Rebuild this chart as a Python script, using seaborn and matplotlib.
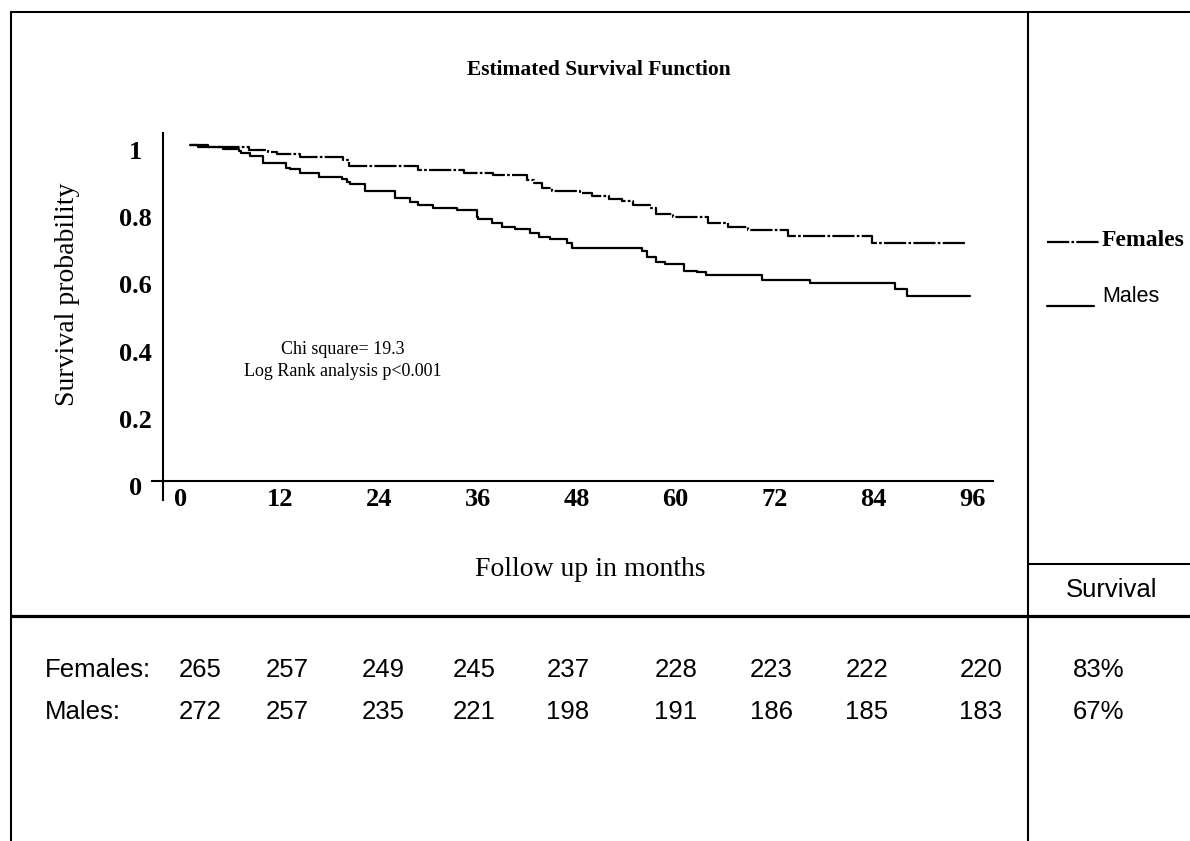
import numpy as np
import pandas as pd
import matplotlib
matplotlib.use("Agg")
import matplotlib.pyplot as plt
from matplotlib.lines import Line2D
from matplotlib.transforms import ScaledTranslation
import seaborn as sns

# ---------------- data ----------------
fem_months = [1.1, 3.3, 8.3, 10.5, 11.6, 14.4, 19.6, 20.4, 28.8, 34.3,
              37.9, 42.0, 42.8, 43.8, 45.0, 48.4, 49.9, 51.9, 53.5, 54.9,
              56.9, 57.7, 59.7, 64.0, 66.4, 68.8, 73.7, 83.8, 95.4]
fem_surv = [1.000, 0.993, 0.985, 0.980, 0.973, 0.965, 0.955, 0.938, 0.926, 0.918,
            0.910, 0.896, 0.887, 0.871, 0.863, 0.858, 0.848, 0.839, 0.832, 0.821,
            0.813, 0.795, 0.785, 0.767, 0.757, 0.746, 0.730, 0.709, 0.709]
male_months = [1.1, 2.1, 5.1, 7.0, 7.3, 8.4, 10.0, 12.8, 13.2, 14.4,
               16.7, 19.5, 20.1, 20.5, 22.3, 26.0, 27.8, 28.8, 30.6, 33.5,
               35.9, 36.1, 37.7, 38.9, 40.5, 42.4, 43.4, 44.8, 46.8, 47.4,
               55.9, 56.6, 57.7, 58.7, 61.0, 62.6, 63.7, 70.5, 76.3, 86.7,
               88.1, 95.7]
male_surv = [1.000, 0.993, 0.987, 0.982, 0.975, 0.967, 0.947, 0.932, 0.928, 0.918,
             0.906, 0.898, 0.891, 0.883, 0.863, 0.841, 0.831, 0.821, 0.813, 0.806,
             0.787, 0.781, 0.769, 0.757, 0.749, 0.737, 0.727, 0.719, 0.707, 0.693,
             0.685, 0.668, 0.653, 0.645, 0.626, 0.621, 0.614, 0.599, 0.588, 0.571,
             0.551, 0.551]
tick_months = [0, 12, 24, 36, 48, 60, 72, 84, 96]
y_ticks = [0, 0.2, 0.4, 0.6, 0.8, 1]
y_tick_labels = ["0", "0.2", "0.4", "0.6", "0.8", "1"]
groups = ["Females", "Males"]
fem_at_risk = [265, 257, 249, 245, 237, 228, 223, 222, 220]
male_at_risk = [272, 257, 235, 221, 198, 191, 186, 185, 183]
survival_pct = ["83%", "67%"]

title = "Estimated Survival Function"
x_label = "Follow up in months"
y_label = "Survival probability"
stats_lines = ["Chi square= 19.3", "Log Rank analysis p<0.001"]

# ---------------- style ----------------
sns.set_theme(style="white")
plt.rcParams["font.family"] = ["Liberation Serif", "DejaVu Serif"]
plt.rcParams["text.color"] = "black"
plt.rcParams["axes.labelcolor"] = "black"
plt.rcParams["xtick.color"] = "black"
plt.rcParams["ytick.color"] = "black"
SANS = ["Liberation Sans", "DejaVu Sans"]

W, H = 1190, 841
fig = plt.figure(figsize=(W / 100, H / 100), dpi=100)
fig.patch.set_facecolor("white")


def fx(px):
    return px / W


def fy(py):
    return 1 - py / H


ax = fig.add_axes([fx(152), fy(500), fx(993) - fx(152), fy(133) - fy(500)])
ax.set_facecolor("white")

df = pd.concat([
    pd.DataFrame({"month": fem_months, "surv": fem_surv, "group": groups[0]}),
    pd.DataFrame({"month": male_months, "surv": male_surv, "group": groups[1]}),
], ignore_index=True)

dash_f = (10, 1.0, 1.2, 1.0)
sns.lineplot(data=df, x="month", y="surv", hue="group", style="group",
             palette={groups[0]: "black", groups[1]: "black"},
             dashes={groups[0]: dash_f, groups[1]: ""},
             drawstyle="steps-post", estimator=None, legend=False,
             linewidth=1.6, ax=ax)

ax.set_xlim(-3.52, 98.54)
ax.set_ylim(-0.0565, 1.0357)
for s in ["top", "right"]:
    ax.spines[s].set_visible(False)
ax.spines["left"].set_position(("data", -2.18))
ax.spines["bottom"].set_position(("data", 0))
for s in ["left", "bottom"]:
    ax.spines[s].set_color("black")
    ax.spines[s].set_linewidth(1.5)

ax.set_xticks(tick_months)
ax.set_xticklabels([str(m) for m in tick_months], fontsize=19, fontweight="bold",
                   color="black")
ax.set_yticks(y_ticks)
ax.set_yticklabels(y_tick_labels, fontsize=19, fontweight="bold", ha="center",
                   color="black")
ax.tick_params(axis="both", length=0, colors="black")
ax.tick_params(axis="x", pad=5)
ax.tick_params(axis="y", pad=20)
ax.set_xlabel("")
ax.set_ylabel("")
ax.grid(False)
# y tick labels sit a few pixels below their grid values in the reference
shift = ScaledTranslation(0, -5 / 100, fig.dpi_scale_trans)
for lab in ax.get_yticklabels():
    lab.set_transform(lab.get_transform() + shift)

# texts around the plot
fig.text(fx(599), fy(70), title, ha="center", va="center", fontsize=15.5,
         fontweight="bold", color="black")
fig.text(fx(590), fy(570), x_label, ha="center", va="center", fontsize=20, color="black")
fig.text(fx(67), fy(294), y_label, ha="center", va="center", fontsize=20, rotation=90,
         color="black")
fig.text(fx(343), fy(349), stats_lines[0], ha="center", va="center", fontsize=13,
         color="black")
fig.text(fx(343), fy(372), stats_lines[1], ha="center", va="center", fontsize=13,
         color="black")


# frame lines
def hline(y, x0, x1, lw=1.5):
    fig.add_artist(Line2D([fx(x0), fx(x1)], [fy(y), fy(y)], transform=fig.transFigure,
                          color="black", linewidth=lw))


def vline(x, y0, y1, lw=1.5):
    fig.add_artist(Line2D([fx(x), fx(x)], [fy(y0), fy(y1)], transform=fig.transFigure,
                          color="black", linewidth=lw))


hline(12, 11, 1190)
vline(11, 12, 841)
vline(1028, 12, 841)
hline(616, 11, 1190, lw=2.3)
hline(564, 1028, 1190)

# legend
fig.add_artist(Line2D([fx(1047), fx(1099)], [fy(242), fy(242)], transform=fig.transFigure,
                      color="black", linewidth=1.6, linestyle=(0, dash_f)))
fig.text(fx(1102), fy(241), groups[0], ha="left", va="center", fontsize=17,
         fontweight="bold", color="black")
fig.add_artist(Line2D([fx(1047), fx(1094)], [fy(306), fy(306)], transform=fig.transFigure,
                      color="black", linewidth=1.6))
fig.text(fx(1102), fy(297), groups[1], ha="left", va="center", fontsize=15.5,
         family=SANS, color="black")

# at-risk table
col_x = [200, 287, 383, 474, 568, 676, 771, 867, 981]
row_y = [670, 712]
fig.text(fx(1112), fy(590), "Survival", ha="center", va="center", fontsize=18.5,
         family=SANS, color="black")
for label, counts, pct, y in zip(groups, [fem_at_risk, male_at_risk], survival_pct, row_y):
    fig.text(fx(45), fy(y), label + ":", ha="left", va="center", fontsize=18.5,
             family=SANS, color="black")
    for cx, n in zip(col_x, counts):
        fig.text(fx(cx), fy(y), str(n), ha="center", va="center", fontsize=18.5,
                 family=SANS, color="black")
    fig.text(fx(1099), fy(y), pct, ha="center", va="center", fontsize=18.5,
             family=SANS, color="black")

fig.savefig("out.png", dpi=100, facecolor="white")
